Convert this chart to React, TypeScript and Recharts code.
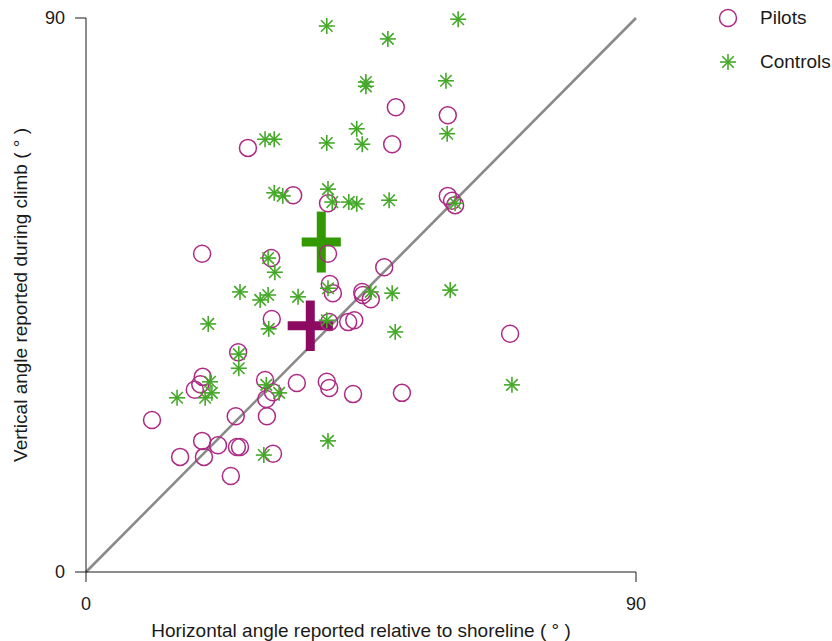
import {
  ErrorBar,
  Legend,
  ReferenceLine,
  Scatter,
  ScatterChart,
  XAxis,
  YAxis,
} from "recharts";

// Individual responses, degrees
const pilotsX = [
  26.5, 50.7, 59.2, 50.1, 33.9, 39.6, 59.2, 59.9, 60.4, 19.0, 30.3, 39.6, 48.8, 39.9, 40.4, 45.2,
  45.3, 46.6, 30.4, 39.8, 42.9, 43.9, 69.4, 24.9, 19.1, 18.7, 17.8, 29.3, 30.6, 29.5, 29.6, 34.5,
  39.4, 39.8, 43.7, 51.7, 24.5, 10.8, 19.0, 21.6, 24.7, 25.2, 30.6, 19.3, 15.4, 23.7,
];
const pilotsY = [
  68.9, 75.5, 74.2, 69.5, 61.2, 59.9, 61.1, 60.3, 59.6, 51.7, 51.0, 51.7, 49.5, 46.8, 45.3, 45.5,
  45.0, 44.3, 41.1, 40.6, 40.6, 40.9, 38.7, 35.7, 31.7, 30.5, 29.6, 31.2, 29.2, 28.1, 25.3, 30.7,
  30.9, 29.9, 28.9, 29.1, 25.3, 24.7, 21.3, 20.6, 20.3, 20.3, 19.2, 18.7, 18.7, 15.6,
];
const controlsX = [
  39.4, 60.9, 49.4, 45.8, 45.8, 58.9, 29.3, 30.8, 39.4, 44.3, 45.2, 59.1, 30.8, 32.2, 39.6, 40.3,
  43.0, 44.3, 49.6, 60.4, 29.8, 30.9, 25.2, 28.5, 29.8, 34.7, 39.6, 46.6, 50.1, 59.6, 20.0, 29.9,
  39.4, 50.6, 25.0, 25.0, 20.3, 20.6, 19.5, 14.9, 29.5, 31.6, 69.7, 39.6, 29.1,
];
const controlsY = [
  88.7, 89.8, 86.6, 79.6, 78.9, 79.8, 70.3, 70.3, 69.7, 72.0, 69.5, 71.2, 61.6, 61.1, 62.2, 60.1,
  60.1, 59.8, 60.4, 59.9, 51.0, 48.7, 45.5, 44.2, 45.0, 44.7, 46.1, 45.5, 45.3, 45.8, 40.3, 39.5,
  40.9, 39.0, 35.4, 33.1, 30.9, 29.1, 28.3, 28.3, 30.4, 29.1, 30.4, 21.3, 19.0,
];

// Group means with error extents
const pilotsMean = [{ x: 36.7, y: 40.0, ex: 3.7, ey: 4.1 }];
const controlsMean = [{ x: 38.5, y: 53.6, ex: 3.2, ey: 4.95 }];

const axisTicks = [0, 90];
const identityLine = [
  { x: 0, y: 0 },
  { x: 90, y: 90 },
];

const pilots = pilotsX.map((x, i) => ({ x, y: pilotsY[i] }));
const controls = controlsX.map((x, i) => ({ x, y: controlsY[i] }));

const PILOT = "#ac2a84";
const CONTROL = "#44a828";
const PILOT_MEAN = "#8c0a62";
const CONTROL_MEAN = "#339900";
const font = "'Liberation Sans', Arial, sans-serif";

const Ring = ({ cx, cy }: any) => (
  <circle cx={cx} cy={cy} fill="none" r={8.5} stroke={PILOT} strokeWidth={1.5} />
);

const Star = ({ cx, cy }: any) => {
  const r = 8;
  const d = r * 0.72;
  return (
    <g stroke={CONTROL} strokeWidth={1.6}>
      <line x1={cx - r} x2={cx + r} y1={cy} y2={cy} />
      <line x1={cx} x2={cx} y1={cy - r} y2={cy + r} />
      <line x1={cx - d} x2={cx + d} y1={cy - d} y2={cy + d} />
      <line x1={cx - d} x2={cx + d} y1={cy + d} y2={cy - d} />
    </g>
  );
};

const Nothing = () => <g />;

const LegendBox = () => (
  <div style={{ fontFamily: font, fontSize: 19, color: "#1a1a1a" }}>
    <div style={{ alignItems: "center", display: "flex", height: 36 }}>
      <svg height={24} width={30}>
        <Ring cx={14} cy={12} />
      </svg>
      <span style={{ marginLeft: 16 }}>Pilots</span>
    </div>
    <div style={{ alignItems: "center", display: "flex", height: 36, marginTop: 8 }}>
      <svg height={24} width={30}>
        <Star cx={14} cy={12} />
      </svg>
      <span style={{ marginLeft: 16 }}>Controls</span>
    </div>
  </div>
);

export default function App() {
  return (
    <div style={{ left: 0, position: "absolute", top: 0 }}>
      <ScatterChart height={641} margin={{ bottom: 0, left: 0, right: 78, top: 18 }} width={832}>
        <XAxis
          axisLine={{ stroke: "#1a1a1a" }}
          dataKey="x"
          domain={[0, 90]}
          height={69}
          label={{
            fill: "#1a1a1a",
            fontFamily: font,
            fontSize: 19,
            offset: 4,
            position: "insideBottom",
            value: "Horizontal angle reported relative to shoreline ( ° )",
          }}
          tick={{ fill: "#1a1a1a", fontFamily: font, fontSize: 18 }}
          tickLine={{ stroke: "#1a1a1a" }}
          tickMargin={15}
          tickSize={10}
          ticks={axisTicks}
          type="number"
        />
        <YAxis
          axisLine={{ stroke: "#1a1a1a" }}
          dataKey="y"
          domain={[0, 90]}
          label={{
            angle: -90,
            fill: "#1a1a1a",
            fontFamily: font,
            fontSize: 19,
            offset: 20,
            position: "insideLeft",
            style: { textAnchor: "middle" },
            value: "Vertical angle reported during climb ( ° )",
          }}
          tick={{ fill: "#1a1a1a", fontFamily: font, fontSize: 18 }}
          tickLine={{ stroke: "#1a1a1a" }}
          tickMargin={10}
          tickSize={11}
          ticks={axisTicks}
          type="number"
          width={86}
        />
        <ReferenceLine segment={identityLine} stroke="#8a8a8a" strokeWidth={2.6} />
        <Scatter data={pilots} isAnimationActive={false} name="Pilots" shape={<Ring />} />
        <Scatter data={controls} isAnimationActive={false} name="Controls" shape={<Star />} />
        <Scatter data={pilotsMean} isAnimationActive={false} legendType="none" shape={<Nothing />}>
          <ErrorBar dataKey="ex" direction="x" stroke={PILOT_MEAN} strokeWidth={9} width={0} />
          <ErrorBar dataKey="ey" direction="y" stroke={PILOT_MEAN} strokeWidth={9} width={0} />
        </Scatter>
        <Scatter data={controlsMean} isAnimationActive={false} legendType="none" shape={<Nothing />}>
          <ErrorBar dataKey="ex" direction="x" stroke={CONTROL_MEAN} strokeWidth={9} width={0} />
          <ErrorBar dataKey="ey" direction="y" stroke={CONTROL_MEAN} strokeWidth={9} width={0} />
        </Scatter>
        <Legend
          align="right"
          content={<LegendBox />}
          layout="vertical"
          verticalAlign="top"
          wrapperStyle={{ left: 714, top: 0, width: 118 }}
        />
      </ScatterChart>
    </div>
  );
}
